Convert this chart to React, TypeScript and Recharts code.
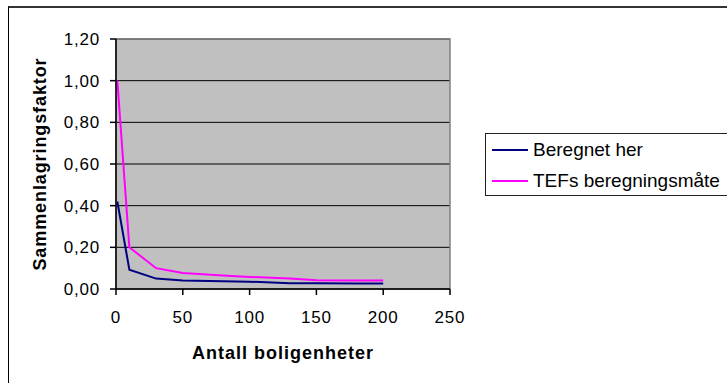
import {
  CartesianGrid,
  Label,
  Line,
  LineChart,
  ReferenceArea,
  XAxis,
  YAxis,
} from "recharts";

// number of dwelling units
const units = [1, 10, 30, 50, 80, 100, 130, 150, 180, 200];
// coincidence factor, own calculation
const beregnetHer = [0.42, 0.093, 0.05, 0.041, 0.037, 0.035, 0.028, 0.028, 0.027, 0.027];
// coincidence factor, TEF method
const tefsMetode = [1.0, 0.2, 0.1, 0.077, 0.065, 0.058, 0.05, 0.042, 0.041, 0.041];

const xTicks = [0, 50, 100, 150, 200, 250];
const yTicks = [0, 0.2, 0.4, 0.6, 0.8, 1.0, 1.2];

const series = [
  { key: "beregnet", name: "Beregnet her", color: "#000080" },
  { key: "tefs", name: "TEFs beregningsmåte", color: "#FF00FF" },
];

const data = units.map((x, i) => ({
  x,
  beregnet: beregnetHer[i],
  tefs: tefsMetode[i],
}));

const font = "'Liberation Sans', Arial, sans-serif";
const tickStyle = { fill: "#000", fontSize: 17, fontFamily: font, letterSpacing: 0.8 };
const titleStyle = {
  fill: "#000",
  fontSize: 18,
  fontWeight: 700,
  fontFamily: font,
  letterSpacing: 1,
};

function comma(value: number) {
  return value.toFixed(2).replace(".", ",");
}

export default function App() {
  return (
    <div
      style={{
        position: "fixed",
        left: 0,
        top: 0,
        width: 727,
        height: 383,
        overflow: "hidden",
        background: "#fff",
      }}
    >
      {/* chart frame, runs past the right and bottom edge */}
      <div
        style={{
          position: "absolute",
          left: 8,
          top: 6,
          width: 800,
          height: 500,
          borderLeft: "1px solid #000",
          borderTop: "2px solid #333",
        }}
      />

      <div style={{ position: "absolute", left: 0, top: 0 }}>
        <LineChart
          width={727}
          height={383}
          data={data}
          margin={{ top: 39, right: 277, bottom: 0, left: 0 }}
        >
          <CartesianGrid
            vertical={false}
            stroke="#000"
            fill="#C0C0C0"
            fillOpacity={1}
          />
          <ReferenceArea
            x1={0}
            x2={250}
            y1={0}
            y2={1.2}
            fill="none"
            fillOpacity={0}
            stroke="#808080"
            strokeWidth={1.5}
            ifOverflow="visible"
          />
          <XAxis
            dataKey="x"
            type="number"
            domain={[0, 250]}
            ticks={xTicks}
            height={94}
            tickSize={6}
            tickMargin={16}
            stroke="#000"
            tick={tickStyle}
            axisLine={{ stroke: "#000", strokeWidth: 1.5 }}
            tickLine={{ stroke: "#000", strokeWidth: 1.5 }}
          >
            <Label
              value="Antall boligenheter"
              position="insideBottom"
              offset={24}
              style={titleStyle}
            />
          </XAxis>
          <YAxis
            type="number"
            domain={[0, 1.2]}
            ticks={yTicks}
            width={116}
            tickSize={6}
            tickMargin={10}
            stroke="#000"
            tick={tickStyle}
            tickFormatter={comma}
            axisLine={{ stroke: "#000", strokeWidth: 1.5 }}
            tickLine={{ stroke: "#000", strokeWidth: 1.5 }}
          >
            <Label
              value="Sammenlagringsfaktor"
              position="insideLeft"
              angle={-90}
              offset={40}
              style={{ ...titleStyle, letterSpacing: 0.9, textAnchor: "middle" }}
            />
          </YAxis>
          {series.map((s) => (
            <Line
              key={s.key}
              dataKey={s.key}
              name={s.name}
              type="linear"
              stroke={s.color}
              strokeWidth={2}
              dot={false}
              activeDot={false}
              isAnimationActive={false}
            />
          ))}
        </LineChart>
      </div>

      <div
        style={{
          position: "absolute",
          left: 485,
          top: 133,
          width: 260,
          height: 61,
          border: "1px solid #222",
          fontFamily: font,
          fontSize: 19,
          color: "#000",
        }}
      >
        {series.map((s) => (
          <div
            key={s.key}
            style={{ display: "flex", alignItems: "center", height: 31 }}
          >
            <span
              style={{
                display: "inline-block",
                marginLeft: 6,
                width: 36,
                height: 2,
                background: s.color,
              }}
            />
            <span style={{ marginLeft: 5, whiteSpace: "nowrap" }}>{s.name}</span>
          </div>
        ))}
      </div>
    </div>
  );
}
